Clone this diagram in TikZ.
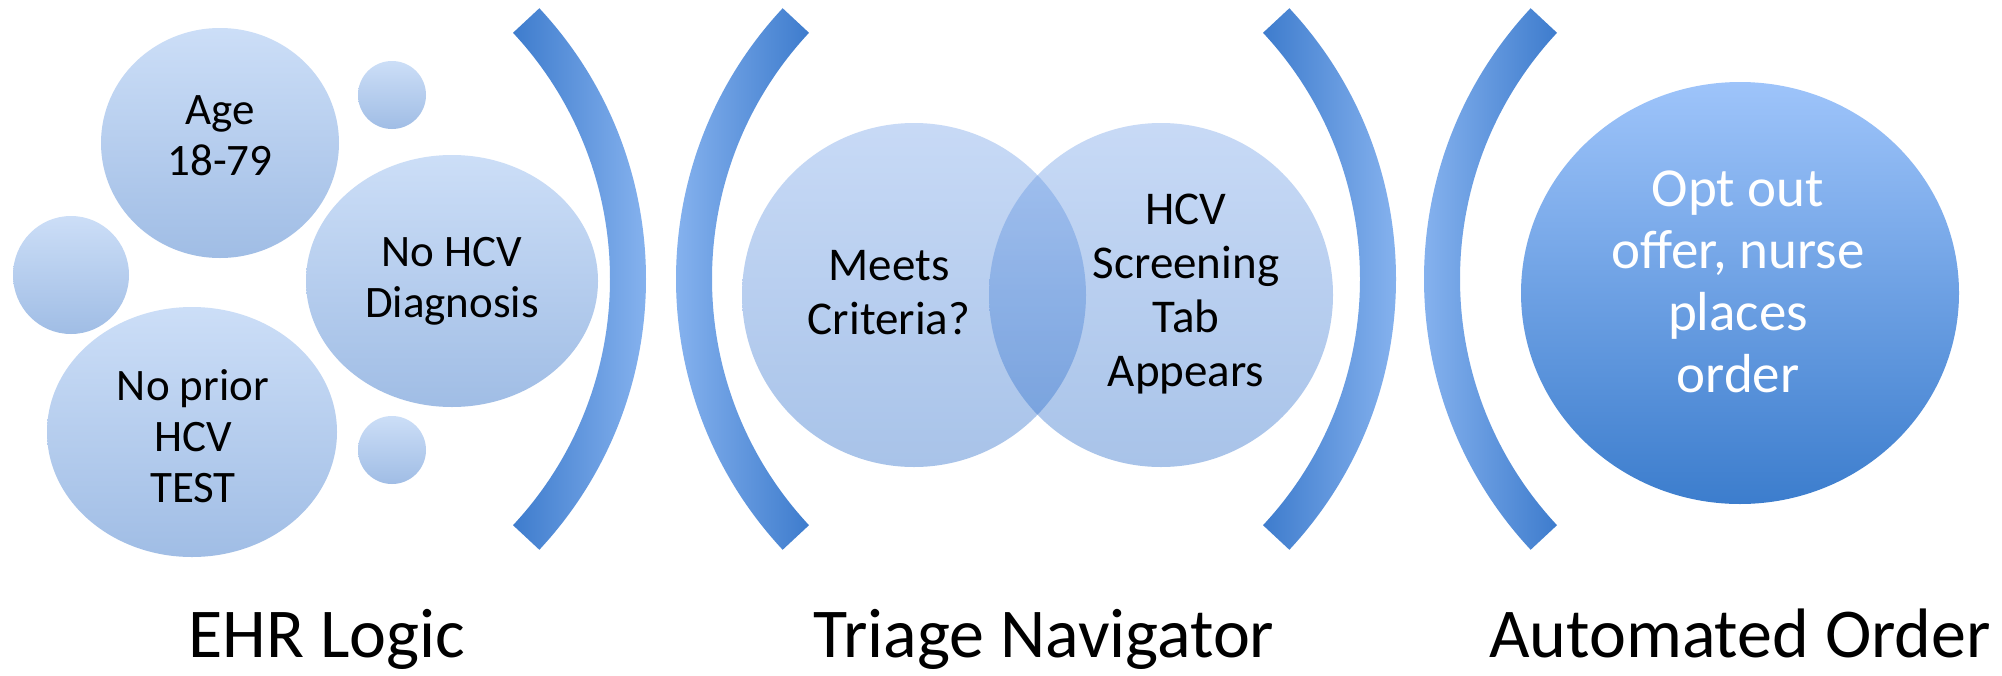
\documentclass[tikz,border=0pt]{standalone}
\usepackage{fontspec}
\setmainfont{Carlito}
\usetikzlibrary{calc,shapes.geometric}
\definecolor{bdark}{RGB}{62,124,205}
\definecolor{blight}{RGB}{152,192,247}
\definecolor{bubtop}{RGB}{204,222,247}
\definecolor{bubbot}{RGB}{160,189,229}
\definecolor{vtop}{RGB}{112,159,232}
\definecolor{vbot}{RGB}{30,100,198}
\definecolor{bigtop}{RGB}{158,196,250}
\definecolor{bigbot}{RGB}{60,125,205}
\tikzset{
  bubble/.style={ellipse, inner sep=0pt, top color=bubtop, bottom color=bubbot, draw=none},
  vennc/.style={circle, inner sep=0pt, top color=vtop, bottom color=vbot, fill opacity=0.385, draw=none},
  bigc/.style={ellipse, inner sep=0pt, top color=bigtop, bottom color=bigbot, draw=none},
  bubtext/.style={align=center, inner sep=0pt, font=\fontsize{22.5}{25.5}\selectfont},
  venntext/.style={align=center, inner sep=0pt, font=\fontsize{23.5}{27}\selectfont},
  bigtext/.style={align=center, inner sep=0pt, text=white, font=\fontsize{27.5}{31}\selectfont},
  label/.style={inner sep=0pt, anchor=base, font=\fontsize{35}{40}\selectfont},
}
\newcommand{\brR}[1]{%
  \shade[left color=bdark, right color=blight]
    ([shift={(43:198.5pt)}]#1) arc[start angle=43, end angle=-43, radius=198.5pt]
    -- ([shift={(-43:180.5pt)}]#1) arc[start angle=-43, end angle=43, radius=180.5pt] -- cycle;}
\newcommand{\brL}[1]{%
  \shade[left color=blight, right color=bdark]
    ([shift={(137:198.5pt)}]#1) arc[start angle=137, end angle=223, radius=198.5pt]
    -- ([shift={(223:180.5pt)}]#1) arc[start angle=223, end angle=137, radius=180.5pt] -- cycle;}
\begin{document}
\begin{tikzpicture}[x=0.5pt, y=-0.5pt]
\useasboundingbox (0,0) rectangle (2002,675);
\fill[white] (0,0) rectangle (2002,675);
% brackets
\coordinate (c1) at (249,279);
\coordinate (c2) at (1073,279);
\coordinate (c3) at (999,279);
\coordinate (c4) at (1821,279);
\brR{c1}
\brL{c2}
\brR{c3}
\brL{c4}
% EHR logic bubbles
\node[bubble, minimum width=119pt, minimum height=115pt] (age) at (220,143) {};
\node[bubble, minimum width=34pt, minimum height=34pt] (s1) at (392,95) {};
\node[bubble, minimum width=58pt, minimum height=59pt] (s2) at (71,275) {};
\node[bubble, minimum width=145pt, minimum height=125pt] (prior) at (192,432) {};
\node[bubble, minimum width=146pt, minimum height=126pt] (diag) at (452,281) {};
\node[bubble, minimum width=34pt, minimum height=34pt] (s3) at (392,450) {};
\node[bubtext] (tage) at (220,136) {Age\\18-79};
\node[bubtext] (tdiag) at (452,281) {No HCV\\Diagnosis};
\node[bubtext] (tprior) at (193,436) {No prior\\HCV\\TEST};
% Venn
\node[vennc, minimum size=172pt] (v1) at (914,295) {};
\node[vennc, minimum size=172pt] (v2) at (1161,295) {};
\node[venntext] (tv1) at (889,293) {Meets\\Criteria?};
\node[venntext] (tv2) at (1186,294) {HCV\\Screening\\Tab\\Appears};
% big circle
\node[bigc, minimum width=219pt, minimum height=211pt] (big) at (1740,293) {};
\node[bigtext] (tbig) at (1738,282) {Opt out\\offer, nurse\\places\\order};
% labels
\node[label] (l1) at (327,657) {EHR Logic};
\node[label] (l2) at (1044,657) {Triage Navigator};
\node[label] (l3) at (1740,657) {Automated Order};
\end{tikzpicture}
\end{document}
